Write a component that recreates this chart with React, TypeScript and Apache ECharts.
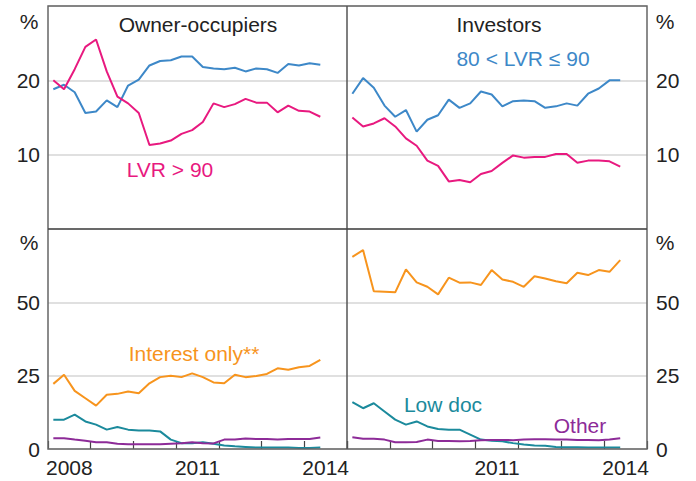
import React, { useEffect, useRef } from "react";
import * as echarts from "echarts";

// Year labels for the bottom axes (each year spans four quarters)
const years = ["2008", "2009", "2010", "2011", "2012", "2013", "2014"];

// Quarterly shares, % (Q1 2008 .. Q2 2014)
const ownerLvr80to90 = [18.8, 19.4, 18.4, 15.6, 15.8, 17.3, 16.4, 19.3, 20.1, 22.0, 22.6, 22.7, 23.2, 23.2, 21.8, 21.6, 21.5, 21.7, 21.2, 21.6, 21.5, 21.0, 22.2, 22.0, 22.3, 22.1];
const ownerLvrOver90 = [20.0, 18.8, 21.5, 24.5, 25.5, 21.2, 17.8, 16.9, 15.6, 11.3, 11.5, 11.9, 12.8, 13.3, 14.4, 16.9, 16.4, 16.8, 17.5, 17.0, 17.0, 15.7, 16.6, 15.9, 15.8, 15.1];
const investorLvr80to90 = [18.2, 20.3, 19.0, 16.6, 15.1, 16.0, 13.1, 14.7, 15.3, 17.4, 16.3, 16.9, 18.5, 18.1, 16.5, 17.2, 17.3, 17.2, 16.3, 16.5, 16.9, 16.6, 18.2, 18.9, 20.0, 20.0];
const investorLvrOver90 = [15.0, 13.8, 14.2, 14.9, 13.8, 12.2, 11.2, 9.2, 8.5, 6.4, 6.6, 6.3, 7.4, 7.8, 8.9, 9.9, 9.6, 9.7, 9.7, 10.1, 10.1, 8.9, 9.2, 9.2, 9.1, 8.4];

const ownerInterestOnly = [22.2, 25.3, 19.8, 17.3, 14.8, 18.5, 18.8, 19.6, 19.0, 22.4, 24.5, 25.0, 24.5, 25.8, 24.5, 22.7, 22.4, 25.3, 24.5, 24.9, 25.6, 27.5, 27.0, 27.9, 28.3, 30.4];
const ownerLowDoc = [10.0, 10.0, 11.7, 9.4, 8.3, 6.6, 7.5, 6.6, 6.3, 6.3, 6.0, 3.2, 2.0, 2.0, 2.3, 1.8, 1.2, 0.9, 0.7, 0.5, 0.5, 0.5, 0.5, 0.3, 0.3, 0.5];
const ownerOther = [3.7, 3.7, 3.2, 2.8, 2.3, 2.3, 1.8, 1.6, 1.6, 1.6, 1.6, 1.8, 2.0, 2.3, 2.0, 1.9, 3.2, 3.2, 3.6, 3.4, 3.4, 3.2, 3.4, 3.4, 3.4, 3.9];
const investorInterestOnly = [65.5, 67.8, 53.8, 53.6, 53.4, 61.2, 56.8, 55.3, 52.7, 58.4, 56.7, 56.8, 55.9, 61.0, 57.8, 57.0, 55.3, 58.9, 58.1, 57.2, 56.5, 60.1, 59.3, 61.0, 60.4, 64.4];
const investorLowDoc = [16.0, 13.9, 15.6, 12.8, 10.0, 8.3, 9.4, 7.7, 6.8, 6.6, 6.6, 4.9, 3.2, 2.8, 2.6, 2.0, 1.5, 1.2, 1.1, 0.7, 0.6, 0.6, 0.5, 0.5, 0.5, 0.5];
const investorOther = [4.0, 3.5, 3.5, 3.2, 2.3, 2.3, 2.4, 3.2, 2.7, 2.7, 2.6, 2.7, 3.0, 3.1, 3.1, 3.0, 3.2, 3.3, 3.3, 3.2, 3.2, 3.1, 3.1, 3.0, 3.2, 3.7];

const BLUE = "#3d88c8";
const PINK = "#e8197f";
const ORANGE = "#f7941d";
const TEAL = "#1b8a9c";
const PURPLE = "#8d2b98";
const FONT = "Liberation Sans, Arial, sans-serif";
const TXT = "#222";
const FS = 21;

const toPts = (arr: number[]) => arr.map((v, i) => [i + 0.5, v]);

export default function App() {
  const ref = useRef<HTMLDivElement>(null);
  useEffect(() => {
    if (!ref.current) return;
    const chart = echarts.init(ref.current, null, { renderer: "svg" });
    const L = 48, M = 347, R = 647, T = 6, MID = 229, B = 449;
    const grids = [
      { left: L, top: T, width: M - L, height: MID - T },
      { left: M, top: T, width: R - M, height: MID - T },
      { left: L, top: MID, width: M - L, height: B - MID },
      { left: M, top: MID, width: R - M, height: B - MID },
    ];
    const valX = (g: number) => ({
      type: "value", gridIndex: g, min: 0, max: 28, interval: 4,
      axisLine: { show: false }, axisTick: { show: false }, axisLabel: { show: false }, splitLine: { show: false },
    });
    const catX = (g: number, showIdx: number[]) => ({
      type: "category", gridIndex: g, data: years, boundaryGap: true, position: "bottom",
      axisLine: { show: false },
      axisTick: { show: true, inside: true, length: 8, interval: 0, lineStyle: { color: "#444", width: 1.2 } },
      axisLabel: {
        interval: (idx: number) => showIdx.indexOf(idx) >= 0,
        fontSize: FS, fontFamily: FONT, color: TXT, margin: 8,
      },
      splitLine: { show: false },
    });
    const yAx = (g: number, pos: string, max: number, step: number) => ({
      type: "value", gridIndex: g, position: pos, min: 0, max, interval: step,
      axisLine: { show: false }, axisTick: { show: false },
      axisLabel: {
        fontSize: FS, fontFamily: FONT, color: TXT, margin: pos === "left" ? 8 : 9,
        formatter: (v: number) => (v === max || (max === 30 && v === 0) ? "" : String(v)),
      },
      splitLine: { show: true, lineStyle: { color: "#d6d6d6", width: 1.5 } },
    });
    const line = (name: string, data: number[], color: string, ax: number) => ({
      name, type: "line", data: toPts(data), xAxisIndex: ax, yAxisIndex: ax,
      symbol: "none", lineStyle: { color, width: 2 }, itemStyle: { color },
    });
    const txt = (x: number, y: number, text: string, color: string, align = "center") => ({
      type: "text", x, y, z: 20,
      style: { text, fill: color, font: `${FS}px ${FONT}`, textAlign: align, textVerticalAlign: "middle" },
    });
    const option = {
      animation: false,
      grid: grids,
      xAxis: [valX(0), valX(1), valX(2), valX(3), catX(2, [0, 3, 6]), catX(3, [3, 6])],
      yAxis: [yAx(0, "left", 30, 10), yAx(1, "right", 30, 10), yAx(2, "left", 75, 25), yAx(3, "right", 75, 25)],
      series: [
        line("Owner 80<LVR<=90", ownerLvr80to90, BLUE, 0),
        line("Owner LVR>90", ownerLvrOver90, PINK, 0),
        line("Investor 80<LVR<=90", investorLvr80to90, BLUE, 1),
        line("Investor LVR>90", investorLvrOver90, PINK, 1),
        line("Owner Low doc", ownerLowDoc, TEAL, 2),
        line("Owner Other", ownerOther, PURPLE, 2),
        line("Owner Interest only", ownerInterestOnly, ORANGE, 2),
        line("Investor Low doc", investorLowDoc, TEAL, 3),
        line("Investor Other", investorOther, PURPLE, 3),
        line("Investor Interest only", investorInterestOnly, ORANGE, 3),
      ],
      graphic: [
        { type: "rect", z: 15, shape: { x: L, y: T, width: R - L, height: B - T }, style: { fill: "none", stroke: "#666", lineWidth: 1.5 } },
        { type: "line", z: 15, shape: { x1: M, y1: T, x2: M, y2: B }, style: { stroke: "#555", lineWidth: 1.5 } },
        { type: "line", z: 15, shape: { x1: L, y1: MID, x2: R, y2: MID }, style: { stroke: "#444", lineWidth: 1.5 } },
        txt(29, 21, "%", TXT),
        txt(29, 242, "%", TXT),
        txt(665, 21, "%", TXT),
        txt(665, 242, "%", TXT),
        txt(198, 24, "Owner-occupiers", TXT),
        txt(499, 24, "Investors", TXT),
        txt(523, 58, "80 < LVR ≤ 90", BLUE),
        txt(170, 169, "LVR > 90", PINK),
        txt(194, 353, "Interest only**", ORANGE),
        txt(443, 404, "Low doc", TEAL),
        txt(580, 425, "Other", PURPLE),
      ],
    };
    chart.setOption(option as any);
    return () => chart.dispose();
  }, []);
  return <div ref={ref} style={{ width: 696, height: 481, position: "absolute", left: 0, top: 0 }} />;
}
